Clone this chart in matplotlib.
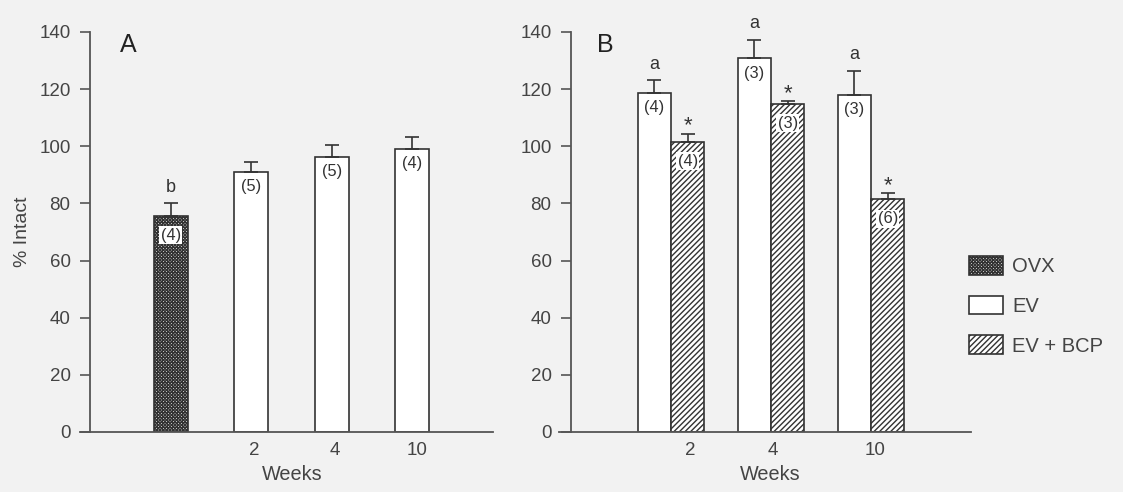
import numpy as np
import matplotlib
matplotlib.use("Agg")
from matplotlib import pyplot as plt
from matplotlib.patches import Patch

plt.rcParams['font.family'] = ['Liberation Sans', 'DejaVu Sans']
plt.rcParams['hatch.linewidth'] = 1.0

# panel A
ovx_val = [75.7]
ovx_err = [4.3]
ovx_n = ["(4)"]
a_ev_val = [91.1, 96.4, 99.2]
a_ev_err = [3.4, 3.9, 4.2]
a_ev_n = ["(5)", "(5)", "(4)"]

# panel B
b_ev_val = [118.8, 130.9, 118.1]
b_ev_err = [4.3, 6.4, 8.3]
b_ev_n = ["(4)", "(3)", "(3)"]
b_bcp_val = [101.6, 114.9, 81.4]
b_bcp_err = [2.8, 0.8, 2.3]
b_bcp_n = ["(4)", "(3)", "(6)"]

weeks = ["2", "4", "10"]

bg = '#f2f2f2'
dark = '#333333'
txt = '#444444'
ovx_hatch = 'xxxxxxxxxx'
bcp_hatch = '//////'

fig = plt.figure(figsize=(11.23, 4.92), dpi=100, facecolor=bg)
axA = fig.add_axes([80/1123, 1-432/492, 413/1123, 400/492])
axB = fig.add_axes([559/1123, 1-432/492, 412/1123, 400/492])

def style(ax, xmin, xmax):
    ax.set_facecolor(bg)
    ax.set_xlim(xmin, xmax)
    ax.set_ylim(0, 140)
    for s in ['top', 'right']:
        ax.spines[s].set_visible(False)
    ax.spines['left'].set_position(('data', 0))
    for s in ['left', 'bottom']:
        ax.spines[s].set_color('#555555')
        ax.spines[s].set_linewidth(1.3)
    ax.set_yticks(np.arange(0, 141, 20))
    ax.tick_params(axis='y', direction='out', length=7, width=1.2, color='#555555',
                   labelsize=13.5, labelcolor=txt, pad=7)
    ax.tick_params(axis='x', length=0, labelsize=13.5, labelcolor=txt, pad=7)
    ax.set_xlabel("Weeks", fontsize=14.3, color=txt, labelpad=4.5)

def bars(ax, x, vals, errs, w, hatch):
    ax.bar(x, vals, width=w, color='white', edgecolor=dark, linewidth=1.2, hatch=hatch, zorder=2)
    ax.errorbar(x, vals, yerr=[np.zeros(len(errs)), errs], fmt='none', ecolor=dark,
                elinewidth=1.2, capsize=4.7, capthick=1.2, zorder=3)

def inner(ax, x, vals, labels, off, boxed):
    for xi, v, t in zip(x, vals, labels):
        kw = dict(boxstyle='square,pad=0.08', fc='white', ec='none') if boxed else None
        ax.annotate(t, (xi, v), xytext=(0, off), textcoords='offset points',
                    ha='center', va='center', fontsize=11.8, color=dark, bbox=kw, zorder=4)

def above(ax, x, tops, s, off, size):
    for xi, v in zip(x, tops):
        ax.annotate(s, (xi, v), xytext=(0, off), textcoords='offset points',
                    ha='center', va='center', fontsize=size, color=dark, zorder=4)

# ---- A
style(axA, -0.124, 5.0)
wA = 0.42
xo = np.array([1.0])
xe = np.array([2.0, 3.0, 4.0])
bars(axA, xo, ovx_val, ovx_err, wA, ovx_hatch)
bars(axA, xe, a_ev_val, a_ev_err, wA, None)
inner(axA, xo, ovx_val, ovx_n, -14, True)
inner(axA, xe, a_ev_val, a_ev_n, -11, False)
above(axA, xo, np.array(ovx_val) + np.array(ovx_err), 'b', 11.5, 13)
axA.set_xticks([2.04, 3.04, 4.06])
axA.set_xticklabels(weeks)
axA.xaxis.label.set_x(0.515)
axA.set_ylabel("% Intact", fontsize=14, color=txt, labelpad=6)
axA.text(0.116, 0.967, "A", transform=axA.transAxes, ha='center', va='center',
         fontsize=18, color='#222222')

# ---- B
style(axB, -0.12, 4.0)
wB = 0.334
g = np.array([1.0, 2.0, 3.0])
bars(axB, g - wB/2, b_ev_val, b_ev_err, wB, None)
bars(axB, g + wB/2, b_bcp_val, b_bcp_err, wB, bcp_hatch)
inner(axB, g - wB/2, b_ev_val, b_ev_n, -11, False)
inner(axB, g + wB/2, b_bcp_val, b_bcp_n, -14, True)
above(axB, g - wB/2, np.array(b_ev_val) + np.array(b_ev_err), 'a', 11.5, 13)
above(axB, g + wB/2, np.array(b_bcp_val) + np.array(b_bcp_err), '*', 5.5, 16)
axB.set_xticks([1.19, 2.02, 3.04])
axB.set_xticklabels(weeks)
axB.xaxis.label.set_x(0.512)
axB.text(0.112, 0.967, "B", transform=axB.transAxes, ha='center', va='center',
         fontsize=18, color='#222222')

handles = [Patch(facecolor='white', edgecolor=dark, hatch=ovx_hatch, linewidth=1.2),
           Patch(facecolor='white', edgecolor=dark, linewidth=1.2),
           Patch(facecolor='white', edgecolor=dark, hatch=bcp_hatch, linewidth=1.2)]
fig.legend(handles, ["OVX", "EV", "EV + BCP"], loc='upper left',
           bbox_to_anchor=(969/1123, 1-256/492), frameon=False, fontsize=14.5,
           handlelength=1.69, handleheight=1.04, labelspacing=0.97, handletextpad=0.45,
           borderpad=0, borderaxespad=0, labelcolor=txt)

fig.savefig("out.png", dpi=100, facecolor=bg)
